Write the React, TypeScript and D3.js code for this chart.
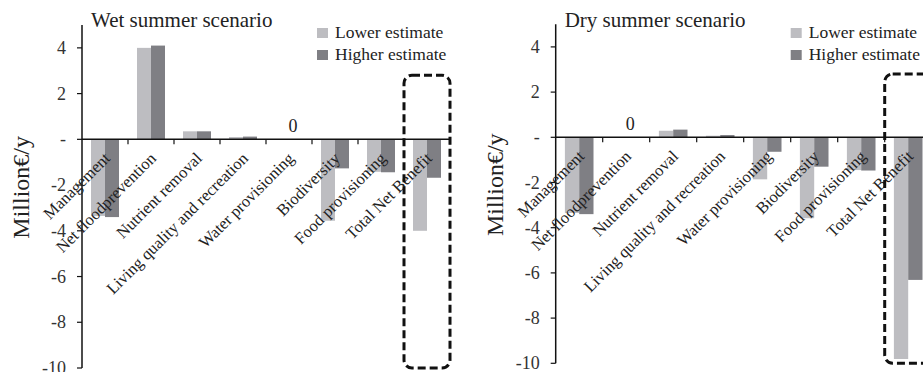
import React from "react";
import * as d3 from "d3";

const categories = [
  "Management",
  "Net floodprevention",
  "Nutrient removal",
  "Living quality and recreation",
  "Water provisioning",
  "Biodiversity",
  "Food provisioning",
  "Total Net Benefit",
];
const wetLower = [-3.35, 4.0, 0.35, 0.1, 0, -3.56, -1.42, -4.0];
const wetHigher = [-3.4, 4.1, 0.35, 0.12, 0, -1.27, -1.44, -1.68];
const dryLower = [-3.35, 0, 0.29, 0.07, -1.86, -3.58, -1.45, -9.81];
const dryHigher = [-3.4, 0, 0.34, 0.1, -0.64, -1.3, -1.47, -6.31];
const yTicks = [4, 2, 0, -2, -4, -6, -8, -10];
const yTickLabels = ["4", "2", "-", "-2", "-4", "-6", "-8", "-10"];
const seriesNames = ["Lower estimate", "Higher estimate"];
const highlight = { category: "Total Net Benefit", top: 2.8, bottom: -10 };

const FONT = "'Liberation Serif', 'Times New Roman', serif";
const LIGHT = "#bdbdc1";
const DARK = "#7f7f84";

type PanelProps = {
  title: string;
  lower: number[];
  higher: number[];
  axisX: number;
  xEnd: number;
  yTop: number;
  yBottom: number;
};

function Panel({ title, lower, higher, axisX, xEnd, yTop, yBottom }: PanelProps) {
  const y = d3.scaleLinear().domain([5, -10]).range([yTop, yBottom]);
  const x0 = d3.scaleBand<string>().domain(categories).range([axisX, xEnd]).padding(0);
  const bw = x0.bandwidth();
  const x1 = d3
    .scaleBand<string>()
    .domain(seriesNames)
    .range([0, bw])
    .paddingInner(0)
    .paddingOuter(0.643);
  const y0 = y(0);
  const hx = x0(highlight.category)!;
  return (
    <g>
      {categories.map((c, i) => {
        const vals = [lower[i], higher[i]];
        return (
          <g key={c}>
            {vals.map((v, j) => (
              <rect
                key={j}
                x={x0(c)! + x1(seriesNames[j])!}
                width={x1.bandwidth()}
                y={Math.min(y(v), y0)}
                height={Math.abs(y(v) - y0)}
                fill={j === 0 ? LIGHT : DARK}
              />
            ))}
            {vals[0] === 0 && vals[1] === 0 && (
              <text
                x={x0(c)! + bw / 2 + 4}
                y={y0 - 7}
                textAnchor="middle"
                fontFamily={FONT}
                fontSize={18}
                fill="#222"
              >
                0
              </text>
            )}
          </g>
        );
      })}
      {/* y axis */}
      <line x1={axisX} x2={axisX} y1={y(5)} y2={y(-10)} stroke="#111" strokeWidth={1.5} />
      {yTicks.map((t, i) => (
        <g key={t}>
          <line x1={axisX - 5} x2={axisX} y1={y(t)} y2={y(t)} stroke="#111" strokeWidth={1.2} />
          <text
            x={axisX - 16}
            y={y(t) + 6}
            textAnchor="end"
            fontFamily={FONT}
            fontSize={18}
            fill="#333"
          >
            {yTickLabels[i]}
          </text>
        </g>
      ))}
      {/* zero line */}
      <line x1={axisX} x2={xEnd} y1={y0} y2={y0} stroke="#111" strokeWidth={1.5} />
      {categories.map((c) => (
        <line
          key={"t" + c}
          x1={x0(c)! + bw}
          x2={x0(c)! + bw}
          y1={y0}
          y2={y0 + 5}
          stroke="#111"
          strokeWidth={1.2}
        />
      ))}
      {categories.map((c) => {
        const ax = x0(c)! + bw / 2 + 6;
        const ay = y0 + 20;
        return (
          <text
            key={"l" + c}
            x={ax}
            y={ay}
            transform={`rotate(-45 ${ax} ${ay})`}
            textAnchor="end"
            fontFamily={FONT}
            fontSize={16.5}
            fill="#222"
          >
            {c}
          </text>
        );
      })}
      {/* highlight box */}
      <rect
        x={hx}
        y={y(highlight.top)}
        width={bw}
        height={y(highlight.bottom) - y(highlight.top)}
        rx={8}
        ry={8}
        fill="none"
        stroke="#111"
        strokeWidth={3}
        strokeDasharray="8,4"
      />
      {/* title */}
      <text x={axisX + 9} y={27} fontFamily={FONT} fontSize={21} fill="#222">
        {title}
      </text>
      {/* legend */}
      {seriesNames.map((s, i) => (
        <g key={s}>
          <rect x={axisX + 235} y={28 + i * 22} width={11} height={10} fill={i === 0 ? LIGHT : DARK} />
          <text x={axisX + 253} y={37.5 + i * 22} fontFamily={FONT} fontSize={17.5} fill="#222">
            {s}
          </text>
        </g>
      ))}
      {/* y label */}
      <text
        transform={`translate(${axisX - 53},${y(-2.1)}) rotate(-90)`}
        textAnchor="middle"
        fontFamily={FONT}
        fontSize={24}
        fill="#222"
      >
        Million€/y
      </text>
    </g>
  );
}

export default function App() {
  return (
    <svg
      width={923}
      height={372}
      style={{ position: "absolute", left: 0, top: 0, background: "#fff" }}
    >
      <rect width={923} height={372} fill="#fff" />
      <Panel
        title="Wet summer scenario"
        lower={wetLower}
        higher={wetHigher}
        axisX={82}
        xEnd={450}
        yTop={25}
        yBottom={368}
      />
      <Panel
        title="Dry summer scenario"
        lower={dryLower}
        higher={dryHigher}
        axisX={555.7}
        xEnd={931.7}
        yTop={24.3}
        yBottom={363.3}
      />
    </svg>
  );
}
